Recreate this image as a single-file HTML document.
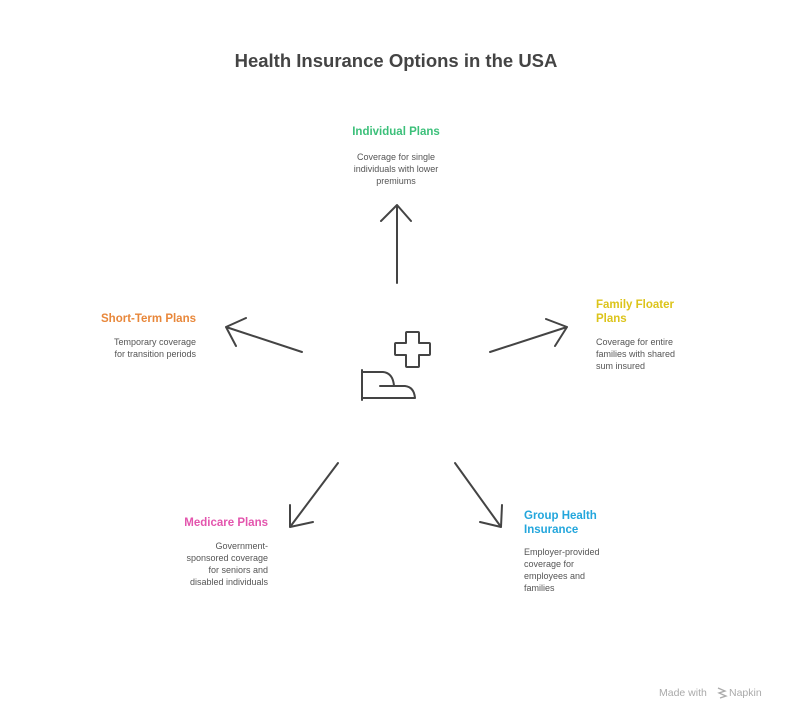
<!DOCTYPE html>
<html><head><meta charset="utf-8"><style>
body{margin:0;background:#fff;}
svg{display:block;font-family:"Liberation Sans",sans-serif;}
.h{font-weight:bold;font-size:11.5px;}
.d{font-size:9px;fill:#555;}
</style></head><body>
<svg width="792" height="720" viewBox="0 0 792 720">
<text x="396" y="67" text-anchor="middle" font-size="18.5" font-weight="bold" fill="#444">Health Insurance Options in the USA</text>
<g fill="none" stroke="#444" stroke-width="2" stroke-linecap="round" stroke-linejoin="round">
<path d="M397 283V205M381 221L397 205L411 221"/>
<path d="M302 352L226 327M246 318L226 327L236 346"/>
<path d="M490 352L567 327M546 319L567 327L555 346"/>
<path d="M338 463L290 527M290 505L290 527L313 522"/>
<path d="M455 463L501 527M480 522L501 527L502 505"/>
<path d="M407 332h11a1 1 0 0 1 1 1v10h10a1 1 0 0 1 1 1v10a1 1 0 0 1-1 1h-10v11a1 1 0 0 1-1 1h-11a1 1 0 0 1-1-1v-11h-10a1 1 0 0 1-1-1v-10a1 1 0 0 1 1-1h10v-10a1 1 0 0 1 1-1z"/>
<path d="M362 370V400M362 372H383Q393 373 394 386M380 386H405Q414 387 415 398H362"/>
</g>
<text x="396" y="135" text-anchor="middle" class="h" fill="#3cc07a">Individual Plans</text>
<text class="d" text-anchor="middle"><tspan x="396" y="160">Coverage for single</tspan><tspan x="396" y="172">individuals with lower</tspan><tspan x="396" y="184">premiums</tspan></text>
<text x="196" y="322" text-anchor="end" class="h" fill="#e8873a">Short-Term Plans</text>
<text class="d" text-anchor="end"><tspan x="196" y="345">Temporary coverage</tspan><tspan x="196" y="357">for transition periods</tspan></text>
<text class="h" fill="#dcc41a"><tspan x="596" y="308">Family Floater</tspan><tspan x="596" y="322">Plans</tspan></text>
<text class="d"><tspan x="596" y="345">Coverage for entire</tspan><tspan x="596" y="357">families with shared</tspan><tspan x="596" y="369">sum insured</tspan></text>
<text x="268" y="526" text-anchor="end" class="h" fill="#e355ad">Medicare Plans</text>
<text class="d" text-anchor="end"><tspan x="268" y="549">Government-</tspan><tspan x="268" y="561">sponsored coverage</tspan><tspan x="268" y="573">for seniors and</tspan><tspan x="268" y="585">disabled individuals</tspan></text>
<text class="h" fill="#23a6dc"><tspan x="524" y="519">Group Health</tspan><tspan x="524" y="533">Insurance</tspan></text>
<text class="d"><tspan x="524" y="555">Employer-provided</tspan><tspan x="524" y="567">coverage for</tspan><tspan x="524" y="579">employees and</tspan><tspan x="524" y="591">families</tspan></text>
<text x="659" y="696" font-size="10.5" fill="#aaa">Made with</text>
<path d="M718 688l7 3-6 2 7 3-6 2" fill="none" stroke="#aaa" stroke-width="1.3"/>
<text x="729" y="696" font-size="10.5" fill="#aaa">Napkin</text>
</svg>
</body></html>
